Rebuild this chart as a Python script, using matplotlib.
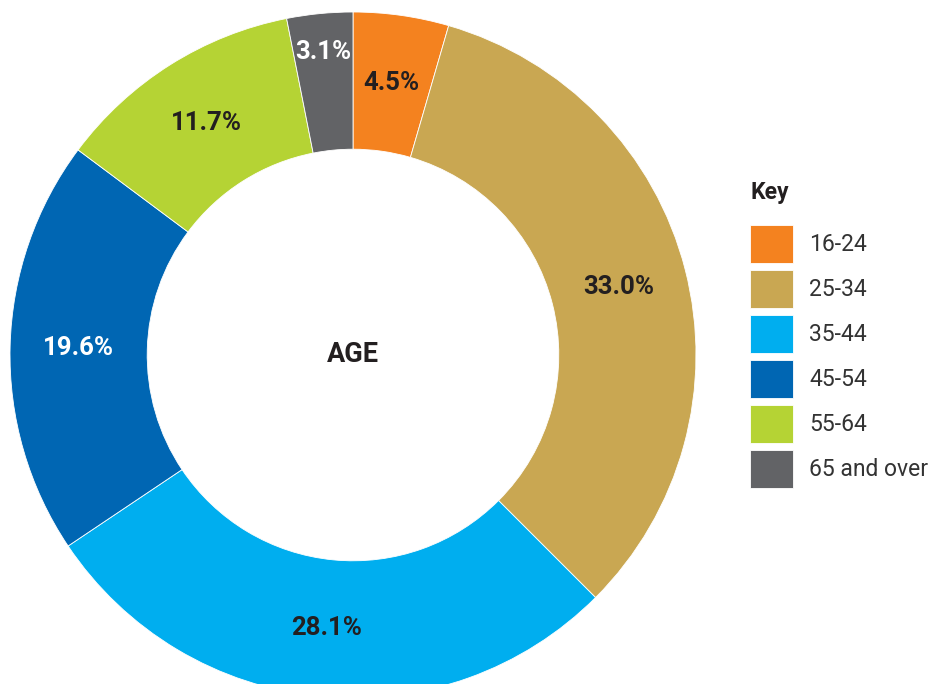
import matplotlib.pyplot as plt

# données
tranches = ['16-24', '25-34', '35-44', '45-54', '55-64', '65 and over']
pourcentages = [4.5, 33.0, 28.1, 19.6, 11.7, 3.1]
couleurs = ['#F4821F', '#C9A752', '#00AEEF', '#0066B3', '#B5D334', '#626366']
couleurs_texte = ['#231F20', '#231F20', '#231F20', 'white', '#231F20', 'white']

plt.rcParams['font.family'] = ['Roboto', 'DejaVu Sans']

fig = plt.figure(figsize=(9.35, 6.84), dpi=100)
ax = fig.add_axes([0, 0, 1, 1])

# on dessine l'anneau en coordonnées pixels (centre et rayon mesurés sur l'image)
cx, cy, r = 353, 329, 343
wedges, textes, autotextes = ax.pie(
    pourcentages, colors=couleurs, startangle=90, counterclock=False,
    center=(cx, cy), radius=r, autopct='%.1f%%', pctdistance=0.8,
    wedgeprops=dict(width=r * 0.4, edgecolor='white', linewidth=0.6),
    textprops=dict(fontsize=18.5, fontweight='bold'))

for t, c in zip(autotextes, couleurs_texte):
    t.set_color(c)

# le petit 3.1% est poussé vers l'extérieur
x, y = autotextes[-1].get_position()
autotextes[-1].set_position((cx + (x - cx) * 1.11, cy + (y - cy) * 1.11))

ax.text(cx, cy, 'AGE', ha='center', va='center', fontsize=19.5,
        fontweight='bold', color='#231F20')

ax.set_xlim(0, 935)
ax.set_ylim(0, 684)
ax.set_aspect('equal')
ax.axis('off')

# titre de la légende placé à part pour garder l'écart avec les entrées
fig.text(751 / 935, 1 - 192 / 684, 'Key', ha='left', va='center',
         fontsize=16.5, fontweight='bold', color='#231F20')

leg = fig.legend(wedges, tranches, loc='upper left',
                 bbox_to_anchor=(750 / 935, 1 - 225 / 684), frameon=False,
                 fontsize=16.5, handlelength=1.88, handleheight=2.18,
                 labelspacing=0.3, handletextpad=0.7, borderpad=0,
                 borderaxespad=0)
for t in leg.get_texts():
    t.set_color('#333333')

fig.savefig('out.png', dpi=100)
